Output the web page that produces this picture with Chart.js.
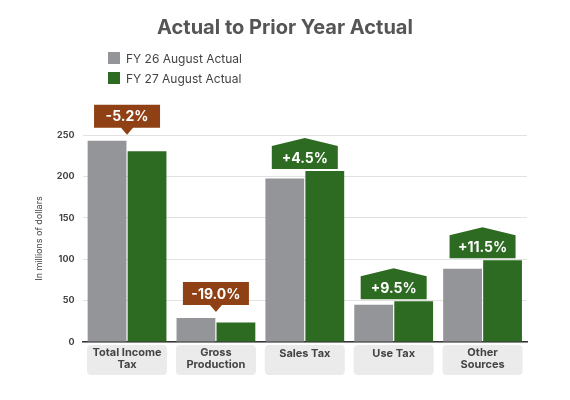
<!DOCTYPE html>
<html><head><meta charset="utf-8">
<script src="https://cdn.jsdelivr.net/npm/chart.js@4"></script>
<style>html,body{margin:0;padding:0;background:#fff}#w{width:570px;height:400px}</style>
</head><body><div id="w"><canvas id="c"></canvas></div>
<script>
const categories=[["Total Income","Tax"],["Gross","Production"],["Sales Tax"],["Use Tax"],["Other","Sources"]];
const fy26=[243,29,197.5,45,88.5];
const fy27=[230.4,23.5,206.4,49.3,98.7];
const changes=["-5.2%","-19.0%","+4.5%","+9.5%","+11.5%"];
const seriesNames=["FY 26 August Actual","FY 27 August Actual"];
const yTicks=[0,50,100,150,200,250];
const FONT="Inter, 'Open Sans', sans-serif";
const deco={id:'deco',afterDraw(ch){
  const c=ch.ctx,x=ch.scales.x,y=ch.scales.y;
  c.save();
  c.fillStyle='#555';c.font='bold 20px '+FONT;c.textAlign='center';c.textBaseline='middle';
  c.fillText('Actual to Prior Year Actual',285,28);
  const cols=['#939598','#2e6b22'];
  c.font='12px '+FONT;c.textAlign='left';
  seriesNames.forEach((n,i)=>{const yy=58+i*20;c.fillStyle=cols[i];c.fillRect(108,yy-6,12,12);c.fillStyle='#444';c.fillText(n,126,yy+1);});
  const step=x.getPixelForValue(1)-x.getPixelForValue(0);
  categories.forEach((lab,i)=>{
    const cx=x.getPixelForValue(i),w=step*0.9;
    c.fillStyle='#ebebeb';c.beginPath();c.roundRect(cx-w/2,y.bottom+3,w,30,4);c.fill();
    c.fillStyle='#444';c.font='bold 11px '+FONT;c.textAlign='center';
    lab.forEach((l,k)=>c.fillText(l,cx,y.bottom+(lab.length==1?12:11+k*12)));
    const top=y.getPixelForValue(Math.max(fy26[i],fy27[i]));
    const neg=changes[i][0]=='-';const bw=66,bh=23;
    c.fillStyle=neg?'#8f4115':'#2e6b22';c.beginPath();
    let ry;
    if(neg){const tip=top-6;ry=tip-7-bh;c.moveTo(cx-bw/2,ry);c.lineTo(cx+bw/2,ry);c.lineTo(cx+bw/2,ry+bh);c.lineTo(cx+6,ry+bh);c.lineTo(cx,tip);c.lineTo(cx-6,ry+bh);c.lineTo(cx-bw/2,ry+bh);}
    else{const bot=top-2;ry=bot-bh;c.moveTo(cx-bw/2,bot);c.lineTo(cx-bw/2,ry);c.lineTo(cx,ry-8);c.lineTo(cx+bw/2,ry);c.lineTo(cx+bw/2,bot);}
    c.closePath();c.fill();
    c.fillStyle='#fff';c.font='bold 14px '+FONT;c.fillText(changes[i],cx,ry+bh/2+1);
  });
  c.restore();
}};
new Chart(document.getElementById('c'),{type:'bar',
 data:{labels:categories.map(l=>l.join(' ')),datasets:[
  {label:seriesNames[0],data:fy26,backgroundColor:'#939598'},
  {label:seriesNames[1],data:fy27,backgroundColor:'#2e6b22'}]},
 options:{responsive:true,maintainAspectRatio:false,animation:false,
  layout:{padding:{top:135,bottom:50,right:43,left:30}},
  categoryPercentage:0.9,barPercentage:0.97,
  plugins:{legend:{display:false},tooltip:{enabled:false}},
  scales:{x:{grid:{display:false},border:{color:'#333',width:1.5},ticks:{display:false}},
   y:{min:0,max:250,afterBuildTicks(s){s.ticks=yTicks.map(v=>({value:v}));},
    grid:{color:'#e2e2e2',drawTicks:false},border:{display:false},
    ticks:{padding:8,color:'#444',font:{size:9,weight:'bold',family:FONT}},
    title:{display:true,text:'In millions of dollars',color:'#444',font:{size:9,family:FONT}}}}},
 plugins:[deco]});
</script></body></html>
